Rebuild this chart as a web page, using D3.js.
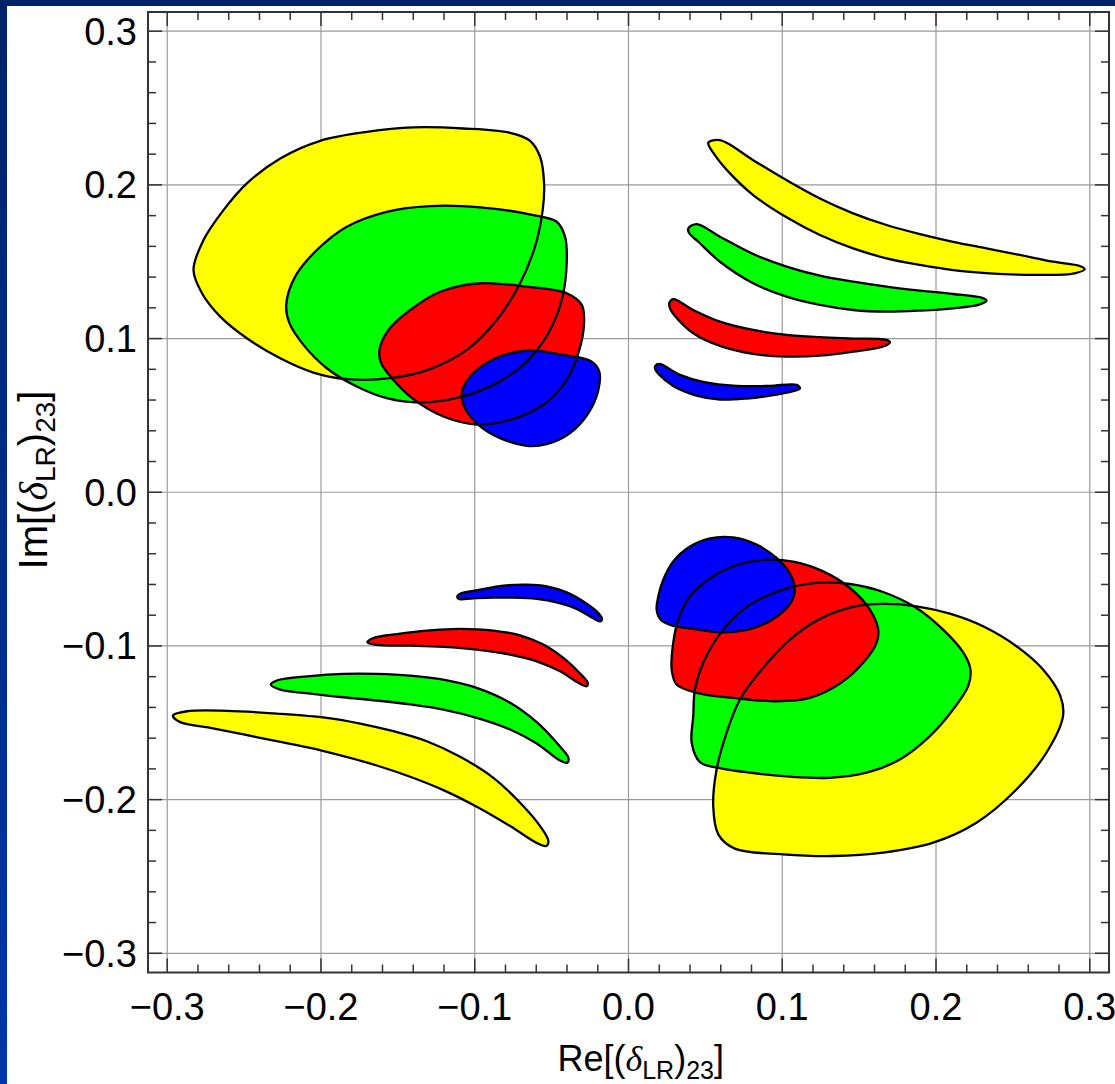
<!DOCTYPE html>
<html>
<head>
<meta charset="utf-8">
<script src="https://cdn.jsdelivr.net/npm/d3@7"></script>
<style>
  html, body { margin: 0; padding: 0; background: #fff; }
  svg { display: block; }
</style>
</head>
<body>
<svg id="chart" width="1115" height="1084"></svg>
<script>
// Allowed regions in the complex (δ_LR)_23 plane, one closed contour per
// confidence level. Each contour is a list of [Re, Im] points.

// upper-left cluster
const ulYellow = [[-0.2829,0.1446],[-0.2764,0.1641],[-0.2634,0.1836],[-0.2482,0.2010],[-0.2265,0.2172],[-0.2005,0.2287],[-0.1702,0.2345],[-0.1399,0.2374],[-0.1074,0.2367],[-0.0770,0.2339],[-0.0640,0.2287],[-0.0575,0.2183],[-0.0549,0.2010],[-0.0558,0.1836],[-0.0608,0.1598],[-0.0705,0.1360],[-0.0857,0.1121],[-0.1052,0.0926],[-0.1290,0.0801],[-0.1550,0.0742],[-0.1832,0.0736],[-0.2049,0.0779],[-0.2265,0.0872],[-0.2482,0.1002],[-0.2655,0.1143],[-0.2774,0.1295]];
const ulGreen = [[-0.2226,0.1219],[-0.2168,0.1403],[-0.2027,0.1576],[-0.1832,0.1728],[-0.1572,0.1825],[-0.1290,0.1862],[-0.0965,0.1854],[-0.0619,0.1804],[-0.0467,0.1760],[-0.0413,0.1663],[-0.0402,0.1490],[-0.0434,0.1251],[-0.0521,0.1035],[-0.0662,0.0850],[-0.0857,0.0710],[-0.1095,0.0619],[-0.1355,0.0584],[-0.1572,0.0612],[-0.1767,0.0688],[-0.1962,0.0807],[-0.2114,0.0959],[-0.2205,0.1100]];
const ulRed = [[-0.1620,0.0926],[-0.1561,0.1056],[-0.1420,0.1186],[-0.1225,0.1305],[-0.0965,0.1360],[-0.0662,0.1338],[-0.0402,0.1295],[-0.0304,0.1219],[-0.0289,0.1100],[-0.0326,0.0905],[-0.0402,0.0731],[-0.0554,0.0569],[-0.0770,0.0471],[-0.0987,0.0441],[-0.1204,0.0493],[-0.1399,0.0606],[-0.1539,0.0742],[-0.1609,0.0840]];
const ulBlue = [[-0.1084,0.0645],[-0.1030,0.0753],[-0.0879,0.0866],[-0.0662,0.0922],[-0.0424,0.0894],[-0.0239,0.0850],[-0.0190,0.0785],[-0.0196,0.0666],[-0.0261,0.0515],[-0.0380,0.0385],[-0.0532,0.0313],[-0.0662,0.0302],[-0.0835,0.0352],[-0.0976,0.0439],[-0.1063,0.0547]];

// upper-right crescents
const urYellow = [[0.0519,0.2274],[0.0595,0.2291],[0.0811,0.2161],[0.1028,0.2031],[0.1245,0.1912],[0.1461,0.1815],[0.1678,0.1739],[0.1895,0.1680],[0.2111,0.1630],[0.2328,0.1587],[0.2545,0.1544],[0.2761,0.1500],[0.2935,0.1472],[0.2967,0.1451],[0.2902,0.1425],[0.2675,0.1414],[0.2436,0.1420],[0.2111,0.1446],[0.1895,0.1479],[0.1678,0.1522],[0.1461,0.1587],[0.1245,0.1674],[0.1028,0.1789],[0.0811,0.1934],[0.0660,0.2075],[0.0562,0.2194]];
const urGreen = [[0.0389,0.1717],[0.0443,0.1745],[0.0595,0.1663],[0.0811,0.1550],[0.1028,0.1468],[0.1245,0.1409],[0.1461,0.1370],[0.1678,0.1338],[0.1895,0.1312],[0.2111,0.1290],[0.2296,0.1266],[0.2328,0.1247],[0.2285,0.1223],[0.2111,0.1197],[0.1895,0.1182],[0.1678,0.1175],[0.1461,0.1186],[0.1245,0.1219],[0.1028,0.1273],[0.0811,0.1360],[0.0595,0.1500],[0.0454,0.1630],[0.0395,0.1685]];
const urRed = [[0.0265,0.1230],[0.0291,0.1256],[0.0421,0.1186],[0.0595,0.1110],[0.0811,0.1056],[0.1028,0.1024],[0.1245,0.1009],[0.1461,0.1000],[0.1678,0.0991],[0.1700,0.0976],[0.1667,0.0952],[0.1461,0.0915],[0.1245,0.0889],[0.1028,0.0883],[0.0811,0.0900],[0.0595,0.0952],[0.0421,0.1035],[0.0309,0.1139],[0.0270,0.1197]];
const urBlue = [[0.0174,0.0822],[0.0200,0.0835],[0.0335,0.0764],[0.0486,0.0718],[0.0703,0.0692],[0.0920,0.0692],[0.1093,0.0699],[0.1115,0.0675],[0.1071,0.0658],[0.0920,0.0629],[0.0768,0.0610],[0.0595,0.0603],[0.0443,0.0629],[0.0291,0.0692],[0.0200,0.0764],[0.0172,0.0807]];

// lower-left crescents
const llYellow = [[-0.2963,-0.1453],[-0.2872,-0.1425],[-0.2612,-0.1422],[-0.2287,-0.1440],[-0.1962,-0.1468],[-0.1745,-0.1505],[-0.1529,-0.1555],[-0.1312,-0.1620],[-0.1095,-0.1721],[-0.0879,-0.1858],[-0.0705,-0.2020],[-0.0575,-0.2172],[-0.0521,-0.2270],[-0.0536,-0.2302],[-0.0601,-0.2280],[-0.0770,-0.2172],[-0.0987,-0.2046],[-0.1204,-0.1938],[-0.1420,-0.1851],[-0.1637,-0.1778],[-0.1854,-0.1717],[-0.2070,-0.1663],[-0.2287,-0.1620],[-0.2503,-0.1576],[-0.2720,-0.1533],[-0.2915,-0.1496]];
const llGreen = [[-0.2326,-0.1251],[-0.2287,-0.1225],[-0.2070,-0.1197],[-0.1854,-0.1182],[-0.1637,-0.1182],[-0.1420,-0.1193],[-0.1204,-0.1219],[-0.0987,-0.1273],[-0.0770,-0.1370],[-0.0597,-0.1496],[-0.0467,-0.1630],[-0.0391,-0.1728],[-0.0398,-0.1760],[-0.0450,-0.1743],[-0.0597,-0.1635],[-0.0770,-0.1544],[-0.0987,-0.1468],[-0.1204,-0.1414],[-0.1420,-0.1381],[-0.1637,-0.1355],[-0.1854,-0.1334],[-0.2070,-0.1310],[-0.2265,-0.1284]];
const llRed = [[-0.1698,-0.0976],[-0.1659,-0.0948],[-0.1485,-0.0920],[-0.1312,-0.0900],[-0.1095,-0.0889],[-0.0879,-0.0900],[-0.0705,-0.0931],[-0.0554,-0.0991],[-0.0424,-0.1078],[-0.0320,-0.1175],[-0.0265,-0.1240],[-0.0272,-0.1262],[-0.0326,-0.1240],[-0.0445,-0.1165],[-0.0597,-0.1100],[-0.0770,-0.1056],[-0.0987,-0.1024],[-0.1204,-0.1006],[-0.1420,-0.0998],[-0.1637,-0.0993]];
const llBlue = [[-0.1113,-0.0677],[-0.1095,-0.0660],[-0.0965,-0.0634],[-0.0814,-0.0608],[-0.0662,-0.0601],[-0.0532,-0.0612],[-0.0402,-0.0651],[-0.0294,-0.0710],[-0.0207,-0.0775],[-0.0172,-0.0824],[-0.0185,-0.0840],[-0.0233,-0.0818],[-0.0337,-0.0759],[-0.0467,-0.0716],[-0.0597,-0.0694],[-0.0749,-0.0686],[-0.0879,-0.0686],[-0.1009,-0.0690],[-0.1106,-0.0694]];

// lower-right cluster
const lrYellow = [[0.0573,-0.1804],[0.0551,-0.2042],[0.0584,-0.2226],[0.0692,-0.2319],[0.1006,-0.2356],[0.1331,-0.2367],[0.1656,-0.2345],[0.1981,-0.2280],[0.2263,-0.2150],[0.2523,-0.1934],[0.2718,-0.1695],[0.2826,-0.1457],[0.2809,-0.1327],[0.2696,-0.1154],[0.2523,-0.1002],[0.2306,-0.0872],[0.2090,-0.0790],[0.1873,-0.0742],[0.1656,-0.0727],[0.1461,-0.0746],[0.1245,-0.0824],[0.1050,-0.0959],[0.0866,-0.1154],[0.0725,-0.1349],[0.0638,-0.1565]];
const lrGreen = [[0.0421,-0.1457],[0.0411,-0.1630],[0.0465,-0.1756],[0.0595,-0.1795],[0.0790,-0.1825],[0.1050,-0.1851],[0.1310,-0.1858],[0.1548,-0.1825],[0.1765,-0.1739],[0.1960,-0.1587],[0.2111,-0.1414],[0.2209,-0.1262],[0.2224,-0.1154],[0.2176,-0.1041],[0.2046,-0.0894],[0.1873,-0.0753],[0.1656,-0.0649],[0.1440,-0.0597],[0.1223,-0.0590],[0.1006,-0.0634],[0.0790,-0.0731],[0.0616,-0.0894],[0.0486,-0.1110],[0.0432,-0.1284]];
const lrRed = [[0.0291,-0.0980],[0.0281,-0.1154],[0.0313,-0.1251],[0.0443,-0.1305],[0.0681,-0.1338],[0.0963,-0.1360],[0.1180,-0.1338],[0.1375,-0.1245],[0.1526,-0.1110],[0.1613,-0.0980],[0.1624,-0.0894],[0.1570,-0.0764],[0.1440,-0.0623],[0.1266,-0.0515],[0.1071,-0.0452],[0.0898,-0.0439],[0.0725,-0.0467],[0.0551,-0.0547],[0.0400,-0.0677],[0.0324,-0.0829]];
const lrBlue = [[0.0183,-0.0764],[0.0209,-0.0829],[0.0281,-0.0866],[0.0421,-0.0889],[0.0595,-0.0911],[0.0746,-0.0900],[0.0876,-0.0861],[0.0996,-0.0785],[0.1065,-0.0703],[0.1082,-0.0623],[0.1045,-0.0521],[0.0959,-0.0424],[0.0833,-0.0341],[0.0681,-0.0294],[0.0530,-0.0300],[0.0395,-0.0356],[0.0291,-0.0450],[0.0226,-0.0569],[0.0194,-0.0677]];

// axis ticks
const majorTicks = [-0.3, -0.2, -0.1, 0.0, 0.1, 0.2, 0.3];
const tickLabels = ["\u22120.3", "\u22120.2", "\u22120.1", "0.0", "0.1", "0.2", "0.3"];
const minorTicks = [-0.28,-0.26,-0.24,-0.22,-0.18,-0.16,-0.14,-0.12,-0.08,-0.06,-0.04,-0.02,
                    0.02,0.04,0.06,0.08,0.12,0.14,0.16,0.18,0.22,0.24,0.26,0.28];

// contours in drawing order: largest level first so smaller ones sit on top
const regions = [
  { level: "yellow", shapes: [ulYellow, urYellow, llYellow, lrYellow] },
  { level: "green",  shapes: [ulGreen,  urGreen,  llGreen,  lrGreen] },
  { level: "red",    shapes: [ulRed,    urRed,    llRed,    lrRed] },
  { level: "blue",   shapes: [ulBlue,   urBlue,   llBlue,   lrBlue] }
];
const levelColor = { yellow: "#ffff00", green: "#00ff00", red: "#ff0000", blue: "#0000ff" };

const W = 1115, H = 1084;
const pL = 148, pR = 1109, pT = 12, pB = 972.5;
const x = d3.scaleLinear().domain([-0.3125, 0.3125]).range([pL, pR]);
const y = d3.scaleLinear().domain([-0.3125, 0.3125]).range([pB, pT]);

const svg = d3.select("#chart");

// slide-style frame: blue band on top and left, white page
const defs = svg.append("defs");
const grad = defs.append("linearGradient").attr("id", "band")
  .attr("x1", 0).attr("y1", 0).attr("x2", 0).attr("y2", 1);
grad.append("stop").attr("offset", "0%").attr("stop-color", "#00226a");
grad.append("stop").attr("offset", "100%").attr("stop-color", "#0036a8");
svg.append("rect").attr("width", W).attr("height", H).attr("fill", "url(#band)");
svg.append("rect").attr("x", 7).attr("y", 6).attr("width", W - 7).attr("height", H - 6).attr("fill", "#fff");

// grid
const grid = svg.append("g").attr("stroke", "#9a9a9a").attr("stroke-width", 1.2);
grid.append("g").selectAll("line").data(majorTicks).join("line")
  .attr("x1", d => x(d)).attr("x2", d => x(d)).attr("y1", pT).attr("y2", pB);
grid.append("g").selectAll("line").data(majorTicks).join("line")
  .attr("y1", d => y(d)).attr("y2", d => y(d)).attr("x1", pL).attr("x2", pR);

// filled regions
const contour = d3.line().x(d => x(d[0])).y(d => y(d[1])).curve(d3.curveCatmullRomClosed.alpha(0.5));
const fills = svg.append("g");
regions.forEach(r => {
  fills.append("g").selectAll("path").data(r.shapes).join("path")
    .attr("d", contour).attr("fill", levelColor[r.level]).attr("stroke", "none");
});
// contour outlines drawn over all fills
const outlines = svg.append("g").attr("fill", "none").attr("stroke", "#000")
  .attr("stroke-width", 2.3).attr("stroke-linejoin", "round");
regions.forEach(r => {
  outlines.append("g").selectAll("path").data(r.shapes).join("path").attr("d", contour);
});

// ticks on all four sides, pointing inward
const ax = svg.append("g").attr("stroke", "#333").attr("stroke-width", 1.5);
const majLen = 14, minLen = 8;
function tickSet(vals, len) {
  ax.append("g").selectAll("line").data(vals).join("line")
    .attr("x1", d => x(d)).attr("x2", d => x(d)).attr("y1", pB).attr("y2", pB - len);
  ax.append("g").selectAll("line").data(vals).join("line")
    .attr("x1", d => x(d)).attr("x2", d => x(d)).attr("y1", pT).attr("y2", pT + len);
  ax.append("g").selectAll("line").data(vals).join("line")
    .attr("y1", d => y(d)).attr("y2", d => y(d)).attr("x1", pL).attr("x2", pL + len);
  ax.append("g").selectAll("line").data(vals).join("line")
    .attr("y1", d => y(d)).attr("y2", d => y(d)).attr("x1", pR).attr("x2", pR - len);
}
tickSet(majorTicks, majLen);
tickSet(minorTicks, minLen);

// frame
svg.append("rect").attr("x", pL).attr("y", pT).attr("width", pR - pL).attr("height", pB - pT)
  .attr("fill", "none").attr("stroke", "#333").attr("stroke-width", 2);

// tick labels
const font = "'Liberation Sans', Arial, Helvetica, sans-serif";
const labels = svg.append("g").attr("font-family", font).attr("font-size", 38).attr("fill", "#000");
labels.append("g").selectAll("text").data(majorTicks).join("text")
  .attr("x", d => x(d)).attr("y", 1020).attr("text-anchor", "middle")
  .text((d, i) => tickLabels[i]);
labels.append("g").selectAll("text").data(majorTicks).join("text")
  .attr("x", 137).attr("y", d => y(d) + 13.5).attr("text-anchor", "end")
  .text((d, i) => tickLabels[i]);

// axis titles
function axisTitle(t, part, sub, shift) {
  t.append("tspan").text(part + "[(");
  t.append("tspan").attr("font-family", "'Liberation Serif', 'DejaVu Serif', serif")
    .attr("font-style", "italic").text("\u03b4");
  t.append("tspan").attr("font-size", sub).attr("dy", shift).text("LR");
  t.append("tspan").attr("dy", -shift).text(")");
  t.append("tspan").attr("font-size", sub).attr("dy", shift).text("23");
  t.append("tspan").attr("dy", -shift).text("]");
}
const xt = svg.append("text").attr("font-family", font).attr("font-size", 36)
  .attr("x", 724).attr("y", 1071).attr("text-anchor", "end");
axisTitle(xt, "Re", 25, 8);
const yt = svg.append("text").attr("font-family", font).attr("font-size", 40)
  .attr("text-anchor", "middle").attr("transform", "translate(47,480) rotate(-90)");
axisTitle(yt, "Im", 28, 8);
</script>
</body>
</html>
